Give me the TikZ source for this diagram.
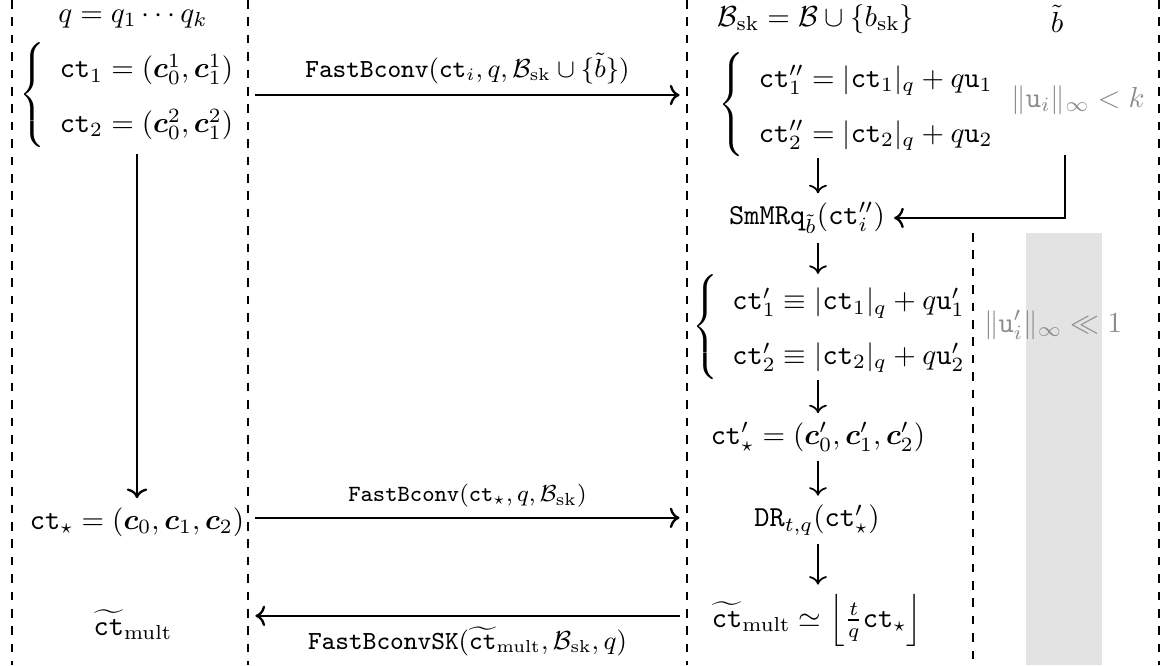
\documentclass[tikz,border=0pt]{standalone}
\usepackage{amsmath}
\usepackage{amssymb}
\usepackage{tikz}
\usetikzlibrary{arrows.meta, positioning}

% two-line system with a left brace
\newcommand{\ctsys}[2]{{\renewcommand{\arraystretch}{1.45}%
  $\left\{\begin{array}{l} #1 \\[1.5pt] #2 \end{array}\right.$}}

\begin{document}
\begin{tikzpicture}[
  eq/.style={inner sep=3pt},
  sys/.style={eq, inner ysep=0pt},
  hint/.style={eq, text=black!45},
  arrow/.style={->, thick},
  hop/.style={arrow, shorten <=0.09cm, shorten >=0.09cm},
  step arrow/.style={->, semithick},
  sep/.style={dashed, thick}
]
\useasboundingbox (0,0) rectangle (14.097,-8.061);

% column separators
\coordinate (s1) at (0.145,0);
\coordinate (s2) at (3.006,0);
\coordinate (s3) at (8.327,0);
\coordinate (s4) at (11.794,-2.824);
\coordinate (s5) at (14.048,0);

\fill[black!11] (12.436,-2.824) rectangle (13.358,-8.061);
\foreach \s in {s1,s2,s3,s5}
  \draw[sep] (\s) -- ++(0,-8.061);
\draw[sep] (s4) -- ++(0,-5.237);

% left column
\node[eq] (qprod) at (1.612,-0.23) {$q = q_1\cdots q_k$};
\node[sys] (ctpair) at (1.64,-1.152) {\ctsys
  {\mathtt{ct}_1 = (\boldsymbol{c}_0^1, \boldsymbol{c}_1^1)}
  {\mathtt{ct}_2 = (\boldsymbol{c}_0^2, \boldsymbol{c}_1^2)}};
\node[eq] (ctstar) at (1.661,-6.327) {$\mathtt{ct}_\star = (\boldsymbol{c}_0, \boldsymbol{c}_1, \boldsymbol{c}_2)$};
\node[eq] (ctmultL) at (1.612,-7.57) {$\widetilde{\mathtt{ct}}_{\mathrm{mult}}$};

% right column
\node[eq] (Bsk) at (9.891,-0.23) {$\mathcal{B}_{\mathrm{sk}} = \mathcal{B}\cup\{b_{\mathrm{sk}}\}$};
\node[eq] (btilde) at (12.812,-0.23) {$\tilde{b}$};
\node[sys] (ctdd) at (10.48,-1.27) {\ctsys
  {\mathtt{ct}''_1 = |\mathtt{ct}_1|_q + q\mathtt{u}_1}
  {\mathtt{ct}''_2 = |\mathtt{ct}_2|_q + q\mathtt{u}_2}};
\node[hint] (norm1) at (13.067,-1.212) {$\|\mathtt{u}_i\|_\infty < k$};
\node[eq] (smmrq) at (9.782,-2.642) {$\mathtt{SmMRq}_{\tilde{b}}(\mathtt{ct}''_i)$};
\node[sys] (ctd) at (10.15,-3.964) {\ctsys
  {\mathtt{ct}'_1 \equiv |\mathtt{ct}_1|_q + q\mathtt{u}'_1}
  {\mathtt{ct}'_2 \equiv |\mathtt{ct}_2|_q + q\mathtt{u}'_2}};
\node[hint] (norm2) at (12.764,-3.939) {$\|\mathtt{u}'_i\|_\infty \ll 1$};
\node[eq] (ctdstar) at (9.915,-5.297) {$\mathtt{ct}'_\star = (\boldsymbol{c}'_0, \boldsymbol{c}'_1, \boldsymbol{c}'_2)$};
\node[eq] (dr) at (9.903,-6.303) {$\mathtt{DR}_{t,q}(\mathtt{ct}'_\star)$};
\node[eq] (ctmultR) at (9.903,-7.515) {$\widetilde{\mathtt{ct}}_{\mathrm{mult}} \simeq \left\lfloor \frac{t}{q}\mathtt{ct}_\star \right\rfloor$};

\coordinate (bt) at (12.909,-1.879);

% left column arrow
\draw[arrow] ([yshift=-0.07cm]ctpair.south -| ctstar.north) -- (ctstar.north);

% base conversions
\draw[hop] (ctpair.east -| s2) -- (ctpair.east -| s3)
  node[midway, above, font=\small] {$\mathtt{FastBconv}(\mathtt{ct}_i, q, \mathcal{B}_{\mathrm{sk}} \cup \{\tilde{b}\})$};
\draw[hop] ([yshift=0.05cm]ctstar.east -| s2) -- ([yshift=0.05cm]ctstar.east -| s3)
  node[midway, above, font=\footnotesize] {$\mathtt{FastBconv}(\mathtt{ct}_\star, q, \mathcal{B}_{\mathrm{sk}})$};
\draw[hop] ([yshift=0.05cm]ctmultR.west -| s3) -- ([yshift=0.05cm]ctmultR.west -| s2)
  node[midway, below=0pt, font=\small] {$\mathtt{FastBconvSK}(\widetilde{\mathtt{ct}}_{\mathrm{mult}}, \mathcal{B}_{\mathrm{sk}}, q)$};

% right column steps
\draw[step arrow] (ctdd.south -| ctdstar) -- (smmrq.north -| ctdstar);
\draw[step arrow] (smmrq.south -| ctdstar) -- (ctd.north -| ctdstar);
\draw[step arrow] (ctd.south -| ctdstar) -- (ctdstar.north);
\draw[step arrow] (ctdstar.south) -- (dr.north -| ctdstar);
\draw[step arrow] (dr.south -| ctdstar) -- (ctmultR.north -| ctdstar);
\draw[arrow] (bt) |- (smmrq.east);

\end{tikzpicture}
\end{document}
